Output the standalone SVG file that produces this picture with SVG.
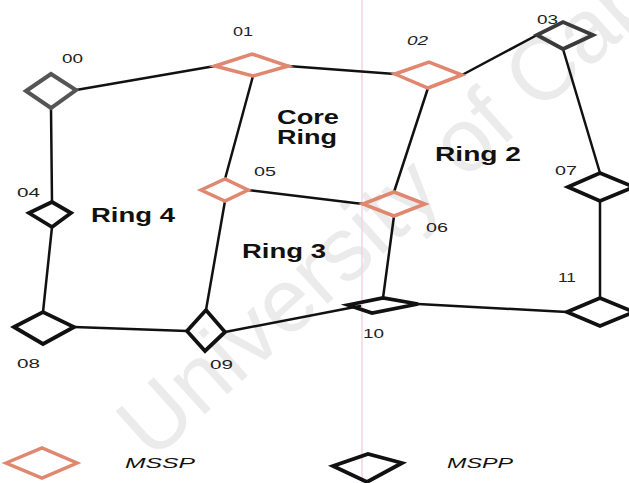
<svg xmlns="http://www.w3.org/2000/svg" width="629" height="483" viewBox="0 0 629 483">
<style>
.bg{fill:#ffffff}
.wm{fill:#ebebeb;font-family:"Liberation Sans",Arial,sans-serif;font-size:90px}
.scan{stroke:#efd3e4;stroke-width:1.5}
.edge{stroke:#111;stroke-width:2.5;fill:none;stroke-linecap:round}
.mssp{fill:none;stroke:#e08770;stroke-width:3.5;stroke-linejoin:miter}
.mspp{fill:none;stroke:#111;stroke-width:3.8;stroke-linejoin:miter}
.gray{fill:none;stroke:#555;stroke-width:4}
.lbl{font-family:"Liberation Sans",Arial,sans-serif;font-size:13.5px;fill:#222}
.ring{font-family:"Liberation Sans",Arial,sans-serif;font-size:20px;font-weight:bold;fill:#111}
.leg{font-family:"Liberation Sans",Arial,sans-serif;font-size:15px;font-style:italic;fill:#111}
</style>
<rect class="bg" x="0" y="0" width="629" height="483"/>
<text class="wm" transform="translate(152,462) rotate(-42)">University of Cap</text>
<line class="scan" x1="362" y1="0" x2="362" y2="483"/>
<g id="connectors">
<line class="edge" x1="76" y1="90" x2="215" y2="66"/>
<line class="edge" x1="288" y1="66" x2="395" y2="74"/>
<line class="edge" x1="462" y1="75" x2="537" y2="35"/>
<line class="edge" x1="563" y1="49" x2="600" y2="173"/>
<line class="edge" x1="600" y1="201" x2="600" y2="298"/>
<line class="edge" x1="567" y1="312" x2="418" y2="304"/>
<line class="edge" x1="383" y1="298" x2="394" y2="216"/>
<line class="edge" x1="394" y1="192" x2="428" y2="88"/>
<line class="edge" x1="253" y1="76" x2="225" y2="179"/>
<line class="edge" x1="248" y1="190" x2="363" y2="204"/>
<line class="edge" x1="225" y1="201" x2="206" y2="310"/>
<line class="edge" x1="225" y1="332" x2="360" y2="306"/>
<line class="edge" x1="187" y1="331" x2="74" y2="327"/>
<line class="edge" x1="43" y1="312" x2="52" y2="227"/>
<line class="edge" x1="52" y1="202" x2="51" y2="108"/>
</g>
<g id="n00"><polygon class="gray" points="26,91 51,74 76,90 51,108"/><text class="lbl" x="62" y="63" textLength="21" lengthAdjust="spacingAndGlyphs">00</text></g>
<g id="n01"><polygon class="mssp" points="215,66 252,54 288,66 253,76"/><text class="lbl" x="233" y="36" textLength="20" lengthAdjust="spacingAndGlyphs">01</text></g>
<g id="n02"><polygon class="mssp" points="395,74 429,62 462,75 428,88"/><text class="lbl" x="407" y="45" textLength="21" lengthAdjust="spacingAndGlyphs" font-style="italic">02</text></g>
<g id="n03"><polygon class="mspp" style="stroke:#3a3a3a" points="537,35 563,22 593,35 563,49"/><text class="lbl" x="537" y="24" textLength="21" lengthAdjust="spacingAndGlyphs">03</text></g>
<g id="n04"><polygon class="mspp" points="29,213 52,202 71,213 52,227"/><text class="lbl" x="17" y="197" textLength="23" lengthAdjust="spacingAndGlyphs">04</text></g>
<g id="n05"><polygon class="mssp" points="201,190 225,179 248,190 225,201"/><text class="lbl" x="254" y="176" textLength="22" lengthAdjust="spacingAndGlyphs">05</text></g>
<g id="n06"><polygon class="mssp" points="363,204 394,192 425,204 394,216"/><text class="lbl" x="426" y="232" textLength="22" lengthAdjust="spacingAndGlyphs">06</text></g>
<g id="n07"><polygon class="mspp" points="568,187 600,173 634,187 600,201"/><text class="lbl" x="555" y="175" textLength="22" lengthAdjust="spacingAndGlyphs">07</text></g>
<g id="n08"><polygon class="mspp" points="14,327 43,312 74,327 43,344"/><text class="lbl" x="17" y="368" textLength="23" lengthAdjust="spacingAndGlyphs">08</text></g>
<g id="n09"><polygon class="mspp" points="187,331 206,310 225,332 205,351"/><text class="lbl" x="210" y="369" textLength="23" lengthAdjust="spacingAndGlyphs">09</text></g>
<g id="n10"><polygon class="mspp" points="348,305 383,298 418,304 372,313"/><text class="lbl" x="363" y="338" textLength="21" lengthAdjust="spacingAndGlyphs">10</text></g>
<g id="n11"><polygon class="mspp" points="567,312 600,298 634,312 600,326"/><text class="lbl" x="558" y="282" textLength="18" lengthAdjust="spacingAndGlyphs">11</text></g>
<g id="ring-labels">
<text class="ring" x="277" y="124" textLength="62" lengthAdjust="spacingAndGlyphs">Core</text>
<text class="ring" x="277" y="144" textLength="60" lengthAdjust="spacingAndGlyphs">Ring</text>
<text class="ring" x="435" y="161" textLength="86" lengthAdjust="spacingAndGlyphs">Ring 2</text>
<text class="ring" x="242" y="258" textLength="84" lengthAdjust="spacingAndGlyphs">Ring 3</text>
<text class="ring" x="91" y="222" textLength="84" lengthAdjust="spacingAndGlyphs">Ring 4</text>
</g>
<g id="legend">
<polygon class="mssp" points="6,463 42,448 77,463 42,478"/>
<text class="leg" x="125" y="468" textLength="70" lengthAdjust="spacingAndGlyphs">MSSP</text>
<polygon class="mspp" points="333,466 368,454 402,463 367,482"/>
<text class="leg" x="447" y="468" textLength="66" lengthAdjust="spacingAndGlyphs">MSPP</text>
</g>
</svg>
